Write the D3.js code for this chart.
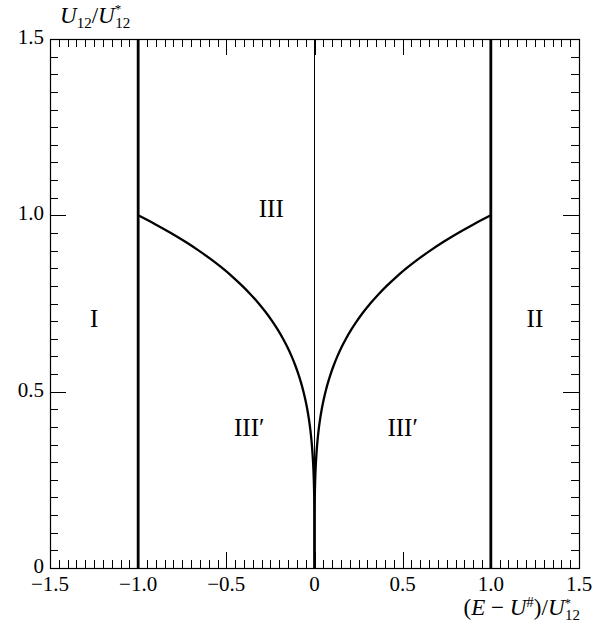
<!DOCTYPE html>
<html>
<head>
<meta charset="utf-8">
<script src="https://cdn.jsdelivr.net/npm/d3@7"></script>
<style>
  html, body { margin: 0; padding: 0; background: #fff; }
  svg { display: block; }
  text { font-family: "Liberation Serif", "DejaVu Serif", serif; fill: #000; }
</style>
</head>
<body>
<svg id="chart" width="596" height="628"></svg>
<script>
// Axis ranges and ticks
const xDomain = [-1.5, 1.5];
const yDomain = [0, 1.5];
const xMajorTicks = [-1.5, -1.0, -0.5, 0, 0.5, 1.0, 1.5];
const xTickLabels = ["\u22121.5", "\u22121.0", "\u22120.5", "0", "0.5", "1.0", "1.5"];
const yMajorTicks = [0, 0.5, 1.0, 1.5];
const yTickLabels = ["0", "0.5", "1.0", "1.5"];
const minorStep = 0.05;

// Phase boundaries: vertical walls at E - U# = ±U*12 and the centre line
const wallX = [-1, 1];
const centreX = [0];

// Boundary between III and III' (right branch; the left branch is its mirror)
const boundaryU = [0, 0.025, 0.05, 0.075, 0.1, 0.125, 0.15, 0.175, 0.2, 0.225, 0.25,
                   0.275, 0.3, 0.325, 0.35, 0.375, 0.4, 0.425, 0.45, 0.475, 0.5,
                   0.525, 0.55, 0.575, 0.6, 0.625, 0.65, 0.675, 0.7, 0.725, 0.75,
                   0.775, 0.8, 0.825, 0.85, 0.875, 0.9, 0.925, 0.95, 0.975, 1.0];
const boundaryE = [0, 0, 0.000006, 0.000032, 0.0001, 0.000244, 0.000506, 0.000938, 0.0016, 0.00256, 0.00391,
                   0.00572, 0.0081, 0.0112, 0.0150, 0.0198, 0.0256, 0.0326, 0.0410, 0.0509, 0.0625,
                   0.0760, 0.0915, 0.1093, 0.1296, 0.1526, 0.1785, 0.2076, 0.2401, 0.2763, 0.3164,
                   0.3607, 0.4096, 0.4632, 0.5220, 0.5862, 0.6561, 0.7321, 0.8145, 0.9037, 1.0];

// Region labels
const regionNames = ["I", "II", "III", "III\u2032", "III\u2032"];
const regionX = [-1.25, 1.25, -0.245, -0.37, 0.5];
const regionY = [0.71, 0.71, 1.02, 0.40, 0.40];

const svg = d3.select("#chart");
const plotL = 50, plotR = 579, plotT = 39, plotB = 568;

const x = d3.scaleLinear().domain(xDomain).range([plotL, plotR]);
const y = d3.scaleLinear().domain(yDomain).range([plotB, plotT]);

const minorX = d3.range(xDomain[0], xDomain[1] + 1e-9, minorStep).map(v => +v.toFixed(2));
const minorY = d3.range(yDomain[0], yDomain[1] + 1e-9, minorStep).map(v => +v.toFixed(2));
const isMajor = (v, arr) => arr.some(m => Math.abs(m - v) < 1e-6);

const majorLen = 16, minorLen = 8;

// Ticks on all four sides (pointing inward)
const tickG = svg.append("g").attr("stroke", "#000").attr("stroke-width", 1);
minorX.forEach(v => {
  const len = isMajor(v, xMajorTicks) ? majorLen : minorLen;
  const px = Math.round(x(v)) + 0.5;
  tickG.append("line").attr("x1", px).attr("x2", px).attr("y1", plotB).attr("y2", plotB - len);
  tickG.append("line").attr("x1", px).attr("x2", px).attr("y1", plotT).attr("y2", plotT + len);
});
minorY.forEach(v => {
  const len = isMajor(v, yMajorTicks) ? majorLen : minorLen;
  const py = Math.round(y(v)) + 0.5;
  tickG.append("line").attr("y1", py).attr("y2", py).attr("x1", plotL).attr("x2", plotL + len);
  tickG.append("line").attr("y1", py).attr("y2", py).attr("x1", plotR).attr("x2", plotR - len);
});

// Frame
svg.append("rect")
  .attr("x", plotL + 0.5).attr("y", plotT + 0.5)
  .attr("width", plotR - plotL).attr("height", plotB - plotT)
  .attr("fill", "none").attr("stroke", "#000").attr("stroke-width", 1.2);

// Tick labels
svg.append("g").selectAll("text").data(xMajorTicks).join("text")
  .attr("x", d => x(d)).attr("y", plotB + 23)
  .attr("text-anchor", "middle").attr("font-size", 21)
  .text((d, i) => xTickLabels[i]);
svg.append("g").selectAll("text").data(yMajorTicks).join("text")
  .attr("x", plotL - 6).attr("y", d => y(d) + 5)
  .attr("text-anchor", "end").attr("font-size", 21)
  .text((d, i) => yTickLabels[i]);

// Centre line
svg.append("g").selectAll("line").data(centreX).join("line")
  .attr("x1", d => x(d)).attr("x2", d => x(d))
  .attr("y1", y(yDomain[0])).attr("y2", y(yDomain[1]))
  .attr("stroke", "#000").attr("stroke-width", 1);

// Walls
svg.append("g").selectAll("line").data(wallX).join("line")
  .attr("x1", d => x(d)).attr("x2", d => x(d))
  .attr("y1", y(yDomain[0])).attr("y2", y(yDomain[1]))
  .attr("stroke", "#000").attr("stroke-width", 2.8);

// Curved boundaries
const pts = boundaryU.map((u, i) => ({ e: boundaryE[i], u }));
const line = d3.line().curve(d3.curveCatmullRom.alpha(0.5));
[1, -1].forEach(sign => {
  svg.append("path")
    .attr("d", line(pts.map(p => [x(sign * p.e), y(p.u)])))
    .attr("fill", "none").attr("stroke", "#000").attr("stroke-width", 2.3);
});

// Region labels
svg.append("g").selectAll("text").data(regionNames).join("text")
  .attr("x", (d, i) => x(regionX[i])).attr("y", (d, i) => y(regionY[i]) + 9)
  .attr("text-anchor", "middle").attr("font-size", 25)
  .text(d => d);

// Axis titles
const yTitle = svg.append("text").attr("x", 60).attr("y", 23).attr("font-size", 23).attr("font-style", "italic");
yTitle.append("tspan").text("U");
yTitle.append("tspan").attr("font-size", 15).attr("font-style", "normal").attr("dy", 5).text("12");
yTitle.append("tspan").attr("dy", -5).attr("font-style", "normal").text("/");
yTitle.append("tspan").text("U");
yTitle.append("tspan").attr("font-size", 13).attr("font-style", "normal").attr("dy", -10).text("*");
yTitle.append("tspan").attr("font-size", 15).attr("font-style", "normal").attr("dy", 15).attr("dx", -6).text("12");

const xTitle = svg.append("text").attr("x", 580).attr("y", 615).attr("font-size", 23).attr("text-anchor", "end");
xTitle.append("tspan").text("(");
xTitle.append("tspan").attr("font-style", "italic").text("E");
xTitle.append("tspan").text(" \u2212 ");
xTitle.append("tspan").attr("font-style", "italic").text("U");
xTitle.append("tspan").attr("font-size", 15).attr("dy", -8).text("#");
xTitle.append("tspan").attr("dy", 8).text(")/");
xTitle.append("tspan").attr("font-style", "italic").text("U");
xTitle.append("tspan").attr("font-size", 13).attr("dy", -8).text("*");
xTitle.append("tspan").attr("font-size", 15).attr("dy", 13).attr("dx", -6).text("12");
</script>
</body>
</html>
